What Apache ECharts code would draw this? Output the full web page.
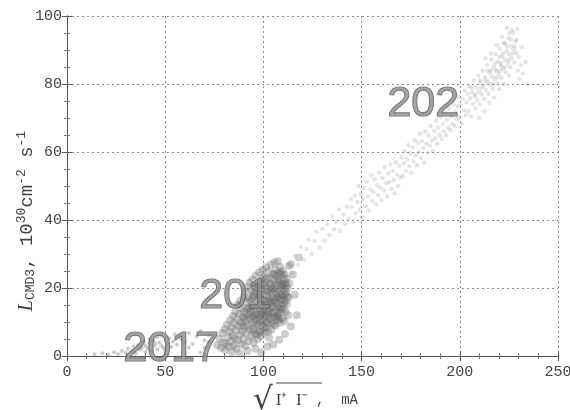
<!DOCTYPE html>
<html>
<head>
<meta charset="utf-8">
<script src="https://cdn.jsdelivr.net/npm/echarts@6/dist/echarts.min.js"></script>
<style>
html,body{margin:0;padding:0;background:#fff;}
#chart{width:570px;height:410px;}
</style>
</head>
<body>
<div id="chart"></div>
<script>
// Axis ticks
const xTicks = [0, 50, 100, 150, 200, 250];
const yTicks = [0, 20, 40, 60, 80, 100];

// Cluster labelled "2017" (low current, low luminosity)
const points2017 = [
[14,0.5],[18,0.8],[21,0.4],[24,1.1],[26,0.6],[28,1.5],[30,0.9],[31,2.1],[33,1.4],[34,2.8],
[35,0.7],[36,3.2],[37,1.9],[38,2.5],[39,4.1],[40,1.2],[40,3.0],[41,2.2],[42,3.8],[42,5.0],
[43,1.6],[44,2.9],[44,4.4],[45,3.5],[46,2.0],[46,5.6],[47,4.0],[48,3.1],[48,6.0],[49,2.4],
[50,4.7],[50,1.8],[51,3.6],[52,5.2],[53,2.7],[54,4.3],[55,6.4],[56,3.3],[58,5.0],[60,4.1],
[62,6.8],[64,3.5],[66,5.7],[68,7.2],[70,4.6],[72,6.1],[62,2.5],[68,1.0],[70,2.5],[72,4.0],[75,6.0]
];

// Cluster labelled "201" (dense)
const points201 = [
[76.5,3.2],[77.8,5.1],[78.4,2.4],[79.1,6.8],[79.6,4.0],[80.2,7.9],[80.5,1.8],
[81.0,3.6],[81.4,9.2],[81.9,5.5],[82.3,2.7],[82.7,7.1],[83.1,10.6],[83.5,4.3],[83.8,8.4],[84.2,6.0],[84.6,11.8],[84.9,3.1],[85.0,9.7],
[85.4,5.2],[85.7,13.0],[86.0,7.6],[86.3,2.2],[86.6,10.9],[86.9,15.1],[87.1,4.6],[87.4,8.8],[87.7,12.4],[88.0,6.3],[88.2,16.2],[88.5,9.9],[88.8,3.5],[89.0,14.0],[89.3,7.2],[89.6,11.5],[89.9,17.4],[89.9,5.0],
[90.2,13.1],[90.4,8.5],[90.6,19.0],[90.8,2.9],[91.0,10.4],[91.2,15.8],[91.4,6.7],[91.6,12.2],[91.8,20.3],[92.0,9.0],[92.2,17.1],[92.4,4.4],[92.6,14.3],[92.8,11.0],[93.0,21.6],[93.1,7.8],[93.3,16.4],[93.5,12.9],[93.7,5.7],[93.9,19.2],[94.0,9.8],[94.2,14.9],[94.4,22.5],[94.6,11.7],[94.8,17.8],[94.9,3.8],
[95.1,8.1],[95.2,13.6],[95.4,20.4],[95.6,16.0],[95.7,6.2],[95.9,10.9],[96.1,23.7],[96.2,18.6],[96.4,12.3],[96.6,14.8],[96.7,9.4],[96.9,21.2],[97.1,4.9],[97.2,16.9],[97.4,11.4],[97.5,19.8],[97.7,7.3],[97.9,24.6],[98.0,13.9],[98.2,17.4],[98.3,10.1],[98.5,22.1],[98.7,15.3],[98.8,5.8],[99.0,12.6],[99.2,19.1],[99.3,8.7],[99.5,25.3],[99.6,16.5],[99.8,13.0],[99.9,21.0],
[100.1,10.6],[100.2,18.2],[100.4,14.4],[100.5,6.9],[100.7,23.3],[100.8,16.1],[101.0,11.8],[101.1,20.6],[101.3,8.3],[101.4,26.1],[101.6,13.5],[101.7,17.7],[101.9,22.7],[102.0,15.0],[102.2,9.6],[102.3,19.5],[102.5,12.1],[102.6,24.8],[102.8,16.8],[102.9,5.4],[103.1,21.4],[103.2,14.0],[103.4,18.9],[103.5,10.9],[103.7,26.9],[103.8,23.0],[104.0,15.7],[104.1,7.7],[104.3,20.1],[104.4,12.8],[104.6,17.2],[104.7,24.2],[104.9,9.3],
[105.0,19.6],[105.2,14.6],[105.3,22.3],[105.5,11.3],[105.6,27.5],[105.8,16.4],[105.9,20.8],[106.1,8.9],[106.2,25.4],[106.4,13.2],[106.5,18.4],[106.7,23.6],[106.8,15.5],[107.0,10.5],[107.1,21.7],[107.3,27.9],[107.4,17.0],[107.6,12.4],[107.7,24.5],[107.9,19.3],[108.0,14.2],[108.2,22.0],[108.3,9.7],[108.5,26.2],[108.6,16.7],[108.8,20.5],[108.9,12.9],[109.1,23.9],[109.2,18.0],[109.4,15.0],[109.5,21.2],[109.7,11.1],[109.8,25.0],
[110.0,17.5],[110.2,13.8],[110.3,22.6],[110.5,19.4],[110.7,10.2],[110.8,24.0],[111.0,16.2],[111.2,20.7],[111.4,13.0],[111.6,18.6],[111.8,22.9],[112.0,15.3],[112.3,19.9],[112.6,12.0],[112.9,17.1],[113.2,21.3],
[84,1.2],[88,0.8],[92,1.5],[96,2.1],[99,1.0],[102,2.8],[105,3.4],[108,4.8],[111,6.5],[114,8.7],
[115,24],[116,18],[114,27],[118,29],[113,26.5],[117,12],
[93.6,14.0],[94.3,17.0],[95.0,18.5],[95.8,12.0],[96.5,20.0],[97.0,14.0],[97.8,18.0],[98.4,12.0],[98.9,20.0],[99.4,15.0],[99.7,23.0],[100.3,12.5],[100.9,21.5],[101.5,16.0],[102.1,19.0],[102.7,13.0],[103.3,16.5],[103.9,21.0],[104.5,14.5],[104.8,18.5],[105.4,16.0],[105.7,24.0],[106.3,20.0],[106.9,17.5],[107.5,14.5],[107.8,22.5],[108.4,18.0],[108.7,24.5],[109.3,16.5],[109.6,20.0],[110.1,21.0],[110.6,15.5],[111.1,18.0],[111.5,21.5],[112.2,17.5],
[101.2,10.0],[103.0,11.5],[105.1,12.5],[107.2,11.8],[109.0,13.8],[97.3,9.0],[99.1,10.5],[95.3,10.0],[92.9,12.0],[91.5,14.0],[90.1,11.0],[89.2,9.0],[94.7,7.5],[96.8,6.5],[98.6,7.0],[100.6,8.5],[102.4,7.2],[104.2,9.8],[106.6,11.5],[108.1,10.8]
];

// Band labelled "202" (high current)
const points202 = [
[114.5,24.5],[116,29.5],[117.5,26.8],[119,32],[120.5,28.4],[122,31.5],[123,34.2],[124.5,30.0],[126,33.8],[127,36.5],[128.5,31.9],[130,37.4],[131,34.0],[132.5,38.8],[133.5,35.6],[135,41.0],[136,37.2],[137,39.5],[138.5,43.1],[139,36.8],[140.5,41.6],[141.5,38.9],[142.5,44.0],[143.5,40.5],[144.5,46.2],
[145,43.8],[145.8,39.5],[146.5,47.1],[147,41.9],[147.8,45.3],[148.5,50.0],[149,43.0],[149.6,47.6],[150.2,40.8],[150.8,46.2],[151.5,49.4],[152,44.1],[152.6,51.3],[153.2,46.9],[153.8,42.8],[154.4,49.0],[155,53.1],[155.5,45.6],[156,48.3],[156.7,51.9],[157.3,44.7],[157.9,50.2],[158.4,47.3],[159,54.0],[159.6,49.5],[160.1,45.9],[160.7,52.4],[161.3,48.6],[161.8,55.5],[162.4,50.8],[163,47.0],[163.5,53.7],[164.1,51.1],[164.7,56.3],[165.2,49.2],[165.8,54.4],[166.3,51.8],[166.9,47.9],[167.5,57.0],[168,53.3],[168.6,50.0],[169.2,55.9],[169.8,52.6],
[170.3,58.4],[170.9,53.1],[171.5,56.7],[172,60.2],[172.6,54.5],[173.1,57.9],[173.7,62.0],[174.2,55.8],[174.8,59.6],[175.3,53.9],[175.9,61.3],[176.4,57.2],[177,63.5],[177.5,59.0],[178.1,56.1],[178.6,62.7],[179.2,60.0],[179.7,65.4],[180.3,58.3],[180.8,63.1],[181.4,61.2],[181.9,56.9],[182.5,66.0],[183,62.4],[183.6,59.7],[184.1,64.8],[184.7,61.9],[185.2,67.6],[185.8,63.4],[186.3,60.3],[186.9,66.2],[187.4,64.0],[188,69.1],[188.5,62.5],[189.1,67.3],[189.6,65.0],[190.2,70.4],[190.7,63.8],[191.3,68.2],[191.8,66.1],[192.4,71.5],[192.9,64.9],[193.5,69.4],[194,67.2],[194.6,72.8],[195.1,66.5],[195.7,70.6],[196.2,68.3],[196.8,74.0],[197.3,67.7],[197.9,71.9],
[198.4,69.6],[198.9,73.4],[199.5,76.2],[200,70.1],[200.5,73.8],[201,68.4],[201.5,75.5],[202,72.3],[202.5,78.1],[203,70.9],[203.5,74.6],[204,77.0],[204.4,72.0],[204.9,79.3],[205.3,75.8],[205.8,70.5],[206.2,77.6],[206.7,74.1],[207.1,81.0],[207.6,76.4],[208,72.9],[208.5,79.0],[208.9,75.2],[209.4,82.5],[209.8,77.8],[210.2,74.0],[210.7,80.4],[211.1,76.9],[211.6,84.0],[212,79.5],[212.4,75.6],[212.9,82.0],[213.3,78.3],[213.8,85.6],[214.2,80.7],[214.6,77.1],[215.1,83.4],[215.5,79.9],[216,87.2],[216.4,82.3],[216.8,78.6],[217.3,85.0],[217.7,81.5],[218.2,88.8],[218.6,83.9],[219,80.2],[219.5,86.6],[219.9,83.0],[220.4,90.3],[220.8,85.4],[221.2,81.8],[221.7,88.0],[222.1,84.6],[222.6,92.0],[223,87.1],[223.4,83.5],[223.9,89.6],[224.3,86.0],[224.8,93.5],[225.2,88.6],[225.6,84.9],[226.1,91.1],[226.5,87.6],[227,95.0],[227.4,90.2],[227.8,86.4],[228.3,92.6],[228.7,89.1],[229.2,96.2],[229.6,84.0],[230,88.0],[230.5,81.5],[231,85.5],[231.5,90.8],[232,83.0],[222.5,80.0],[220,78.5],[217.5,76.0],[215,74.5],[212.5,72.0],[210,70.0],[225,82.5],[226.5,95.8],[224,96.5],[221.5,94.0],[218.8,91.5],[215.8,89.0],[213,87.5],[233.5,86.5],[234.5,80.0],
[206,79],[208,77],[210,81],[211,79],[213,81],[214,84],[216,84],[217,80],[218,86],[219,84],[220,88],[221,86],[222,89],[223,85],[224,91],[225,87],[226,93],[227,89],[228,91],[229,93],[219,82],[221,84],[223,92],[225,95]
];

// Overlaid year labels (text, anchor in data coordinates)
const annoText = ['2017', '201', '202'];
const annoX = [53, 85.6, 181.4];
const annoY = [2.0, 17.6, 74];

const chart = echarts.init(document.getElementById('chart'), null, {renderer: 'canvas'});

const mono = 'Liberation Mono';
const ink = '#444';
const xMin = xTicks[0], xMax = xTicks[xTicks.length - 1], xInt = xTicks[1] - xTicks[0];
const yMin = yTicks[0], yMax = yTicks[yTicks.length - 1], yInt = yTicks[1] - yTicks[0];

const baseX = {
  type: 'value', min: xMin, max: xMax, interval: xInt,
  axisLine: {show: true, lineStyle: {color: '#555', width: 1}},
  axisTick: {show: true, inside: true, length: 5, lineStyle: {color: '#555'}},
  minorTick: {show: true, splitNumber: 5, length: 3, lineStyle: {color: '#777'}},
  splitLine: {show: false}
};
const baseY = {
  type: 'value', min: yMin, max: yMax, interval: yInt,
  axisLine: {show: true, lineStyle: {color: '#555', width: 1}},
  axisTick: {show: true, inside: true, length: 5, lineStyle: {color: '#555'}},
  minorTick: {show: true, splitNumber: 4, length: 3, lineStyle: {color: '#777'}},
  splitLine: {show: false}
};
const gridLine = {show: true, lineStyle: {color: '#8c8c8c', type: [2, 3], width: 1}};

chart.setOption({
  backgroundColor: '#ffffff',
  animation: false,
  grid: {left: 67, right: 12, top: 16, bottom: 54, containLabel: false, outerBoundsMode: 'none'},
  xAxis: [
    Object.assign({}, baseX, {
      position: 'bottom',
      axisLabel: {show: true, fontFamily: mono, fontSize: 15, color: ink, margin: 9},
      splitLine: gridLine,
      name: '{sq|√}{v|I⁺  I⁻}{u| ,  mA}',
      nameLocation: 'middle',
      nameGap: 29,
      nameMoveOverlap: false,
      nameTextStyle: {
        padding: [0, 14, 0, 0],
        rich: {
          sq: {fontFamily: 'DejaVu Sans', fontSize: 31, color: ink, padding: [0, 3, 0, 0]},
          v: {fontFamily: 'Liberation Serif', fontSize: 17, color: ink},
          u: {fontFamily: mono, fontSize: 14, color: ink}
        }
      }
    }),
    Object.assign({}, baseX, {position: 'top', axisLabel: {show: false}})
  ],
  yAxis: [
    Object.assign({}, baseY, {
      position: 'left',
      axisLabel: {show: true, fontFamily: mono, fontSize: 15, color: ink, margin: 5},
      splitLine: gridLine,
      name: '{l|L}{sb|CMD3}{n|, 10}{sp|30}{n|cm}{sp|-2}{n| s}{sp|-1}',
      nameLocation: 'middle',
      nameRotate: 90,
      nameGap: 24,
      nameMoveOverlap: false,
      nameTextStyle: {
        padding: [0, 70, 0, 0],
        rich: {
          l: {fontFamily: 'Liberation Serif', fontStyle: 'italic', fontSize: 20, color: ink, height: 24, verticalAlign: 'middle'},
          n: {fontFamily: mono, fontSize: 19, color: ink, height: 24, verticalAlign: 'middle'},
          sb: {fontFamily: mono, fontSize: 13, color: ink, height: 24, verticalAlign: 'bottom', padding: [7, 0, 0, 0]},
          sp: {fontFamily: mono, fontSize: 13, color: ink, height: 24, verticalAlign: 'top', padding: [0, 0, 9, 0]}
        }
      }
    }),
    Object.assign({}, baseY, {position: 'right', axisLabel: {show: false}})
  ],
  graphic: [{
    type: 'line', silent: true, z: 10,
    shape: {x1: 0, y1: 0, x2: 46, y2: 0},
    position: [276, 383],
    style: {stroke: ink, lineWidth: 1.2}
  }],
  series: [
    {
      type: 'scatter', name: '2017', data: points2017, symbolSize: 4,
      itemStyle: {color: 'rgba(110,110,110,0.45)'}, silent: true, clip: true
    },
    {
      type: 'scatter', name: '201', data: points201, symbolSize: 8,
      itemStyle: {color: 'rgba(100,100,100,0.4)'}, silent: true, clip: true
    },
    {
      type: 'scatter', name: '202', data: points202, symbolSize: 4.5,
      itemStyle: {color: 'rgba(160,160,160,0.35)'}, silent: true, clip: true
    },
    {
      type: 'scatter', name: 'labels', silent: true, clip: false, z: 5,
      symbolSize: 1,
      itemStyle: {color: 'rgba(0,0,0,0)'},
      data: annoText.map((t, i) => ({name: t, value: [annoX[i], annoY[i]]})),
      label: {
        show: true, position: 'inside', formatter: '{b}',
        fontFamily: 'Liberation Sans', fontSize: 43, color: '#8e8e8e',
        textBorderColor: '#4e4e4e', textBorderWidth: 1.2
      }
    }
  ]
});
</script>
</body>
</html>
